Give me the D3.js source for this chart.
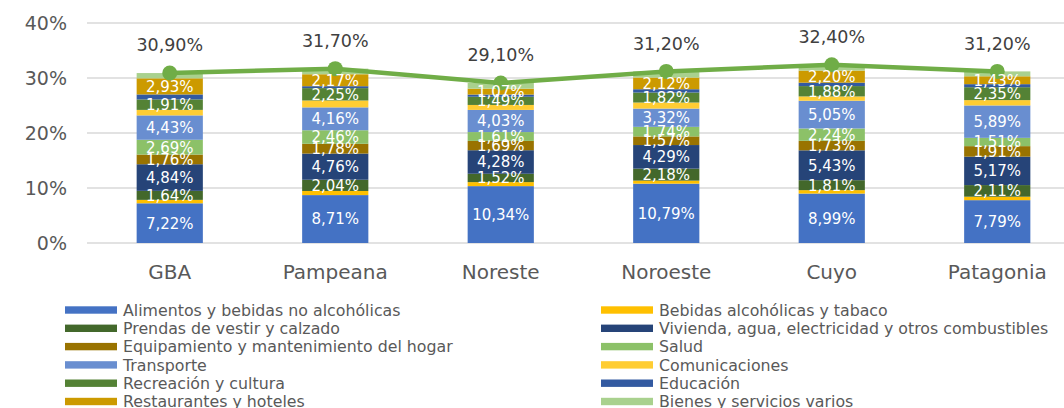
<!DOCTYPE html>
<html lang="es">
<head>
<meta charset="utf-8">
<script src="https://cdn.jsdelivr.net/npm/d3@7"></script>
<title>Gasto por región</title>
<style>
  body { margin: 0; background: #fff; }
  text { font-family: "DejaVu Sans", sans-serif; }
</style>
</head>
<body>
<script>
var w = 1064;
var h = 408;

var regions = ["GBA", "Pampeana", "Noreste", "Noroeste", "Cuyo", "Patagonia"];
var totals = [30.90, 31.70, 29.10, 31.20, 32.40, 31.20];
var yTicks = [0, 10, 20, 30, 40];

// one array per category, in region order
var alimentos      = [7.22, 8.71, 10.34, 10.79, 8.99, 7.79];
var bebidas        = [0.62, 0.75, 0.73, 0.55, 0.62, 0.63];
var prendas        = [1.64, 2.04, 1.52, 2.18, 1.81, 2.11];
var vivienda       = [4.84, 4.76, 4.28, 4.29, 5.43, 5.17];
var equipamiento   = [1.76, 1.78, 1.69, 1.57, 1.73, 1.91];
var salud          = [2.69, 2.46, 1.61, 1.74, 2.24, 1.51];
var transporte     = [4.43, 4.16, 4.03, 3.32, 5.05, 5.89];
var comunicaciones = [1.00, 1.25, 0.90, 1.10, 0.78, 0.97];
var recreacion     = [1.91, 2.25, 1.49, 1.82, 1.88, 2.35];
var educacion      = [0.90, 0.35, 0.40, 0.60, 0.62, 0.55];
var restaurantes   = [2.93, 2.17, 1.07, 2.12, 2.20, 1.43];
var bienes         = [0.96, 1.02, 1.04, 1.12, 1.05, 0.89];

var series = [
  {name: "Alimentos y bebidas no alcohólicas", values: alimentos, color: "#4472C4", label: true},
  {name: "Bebidas alcohólicas y tabaco", values: bebidas, color: "#FFC000", label: false},
  {name: "Prendas de vestir y calzado", values: prendas, color: "#43682B", label: true},
  {name: "Vivienda, agua, electricidad y otros combustibles", values: vivienda, color: "#264478", label: true},
  {name: "Equipamiento y mantenimiento del hogar", values: equipamiento, color: "#997300", label: true},
  {name: "Salud", values: salud, color: "#8CC168", label: true},
  {name: "Transporte", values: transporte, color: "#698ED0", label: true},
  {name: "Comunicaciones", values: comunicaciones, color: "#FFCD33", label: false},
  {name: "Recreación y cultura", values: recreacion, color: "#548235", label: true},
  {name: "Educación", values: educacion, color: "#335AA1", label: false},
  {name: "Restaurantes y hoteles", values: restaurantes, color: "#CC9A00", label: true},
  {name: "Bienes y servicios varios", values: bienes, color: "#A9D18E", label: false}
];

function fmt(v) { return v.toFixed(2).replace(".", ",") + "%"; }

var xScale = d3.scaleBand()
    .domain(regions)
    .range([87, 1080])
    .paddingInner(0.6)
    .paddingOuter(0.3);

var yScale = d3.scaleLinear()
    .domain([0, 40])
    .range([243, 23]);

var svg = d3.select("body").append("svg")
    .attr("width", w)
    .attr("height", h);

// gridlines
svg.selectAll("line.grid")
    .data(yTicks)
    .enter()
    .append("line")
    .attr("class", "grid")
    .attr("x1", 87)
    .attr("x2", w)
    .attr("y1", function(d) { return yScale(d); })
    .attr("y2", function(d) { return yScale(d); })
    .attr("stroke", "#d9d9d9")
    .attr("stroke-width", 1.3);

// y tick labels
svg.selectAll("text.ytick")
    .data(yTicks)
    .enter()
    .append("text")
    .attr("class", "ytick")
    .attr("x", 67)
    .attr("y", function(d) { return yScale(d); })
    .attr("dy", "0.36em")
    .attr("text-anchor", "end")
    .attr("font-size", "19px")
    .attr("fill", "#595959")
    .text(function(d) { return d + "%"; });

// stack the categories
var rows = regions.map(function(r, i) {
  var row = {region: r};
  series.forEach(function(s) { row[s.name] = s.values[i]; });
  return row;
});
var stack = d3.stack().keys(series.map(function(s) { return s.name; }));
var stacked = stack(rows);

var layers = svg.selectAll("g.layer")
    .data(stacked)
    .enter()
    .append("g")
    .attr("class", "layer")
    .attr("fill", function(d, i) { return series[i].color; });

layers.selectAll("rect")
    .data(function(d) { return d; })
    .enter()
    .append("rect")
    .attr("x", function(d) { return xScale(d.data.region); })
    .attr("width", xScale.bandwidth())
    .attr("y", function(d) { return yScale(d[1]); })
    .attr("height", function(d) { return yScale(d[0]) - yScale(d[1]); });

// total line with markers
var cx = function(d, i) { return xScale(regions[i]) + xScale.bandwidth() / 2; };

var line = d3.line()
    .x(cx)
    .y(function(d) { return yScale(d); });

svg.append("path")
    .datum(totals)
    .attr("d", line)
    .attr("fill", "none")
    .attr("stroke", "#70AD47")
    .attr("stroke-width", 4.5);

svg.selectAll("circle.total")
    .data(totals)
    .enter()
    .append("circle")
    .attr("class", "total")
    .attr("cx", cx)
    .attr("cy", function(d) { return yScale(d); })
    .attr("r", 7.5)
    .attr("fill", "#70AD47");

// segment value labels
stacked.forEach(function(layer, li) {
  if (!series[li].label) return;
  svg.append("g")
    .selectAll("text")
    .data(layer)
    .enter()
    .append("text")
    .attr("x", function(d) { return xScale(d.data.region) + xScale.bandwidth() / 2; })
    .attr("y", function(d) { return (yScale(d[0]) + yScale(d[1])) / 2; })
    .attr("dy", "0.36em")
    .attr("text-anchor", "middle")
    .attr("font-size", "15px")
    .attr("fill", "#ffffff")
    .text(function(d) { return fmt(d[1] - d[0]); });
});

// total labels
svg.selectAll("text.total")
    .data(totals)
    .enter()
    .append("text")
    .attr("class", "total")
    .attr("x", cx)
    .attr("y", function(d) { return yScale(d) - 28; })
    .attr("dy", "0.36em")
    .attr("text-anchor", "middle")
    .attr("font-size", "17.5px")
    .attr("fill", "#404040")
    .text(function(d) { return fmt(d); });

// category labels
svg.selectAll("text.cat")
    .data(regions)
    .enter()
    .append("text")
    .attr("class", "cat")
    .attr("x", function(d) { return xScale(d) + xScale.bandwidth() / 2; })
    .attr("y", 272)
    .attr("dy", "0.36em")
    .attr("text-anchor", "middle")
    .attr("font-size", "20px")
    .attr("fill", "#595959")
    .text(function(d) { return d; });

// legend: two columns, series alternate left/right
var legend = svg.selectAll("g.legend")
    .data(series)
    .enter()
    .append("g")
    .attr("class", "legend")
    .attr("transform", function(d, i) {
      var col = i % 2, row = Math.floor(i / 2);
      return "translate(" + (col ? 601 : 65) + "," + (310 + row * 18.3) + ")";
    });

legend.append("rect")
    .attr("x", 0)
    .attr("y", -3.7)
    .attr("width", 52)
    .attr("height", 7.4)
    .attr("fill", function(d) { return d.color; });

legend.append("text")
    .attr("x", 58)
    .attr("y", 0)
    .attr("dy", "0.36em")
    .attr("font-size", "15.8px")
    .attr("fill", "#595959")
    .text(function(d) { return d.name; });
</script>
</body>
</html>
